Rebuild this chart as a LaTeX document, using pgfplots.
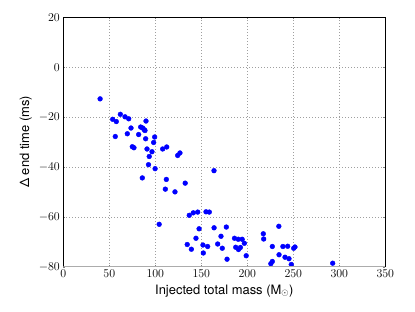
\documentclass[border=0pt]{standalone}
\usepackage{fontspec}
\setmainfont{TeX Gyre Heros}
\usepackage{pgfplots}
\pgfplotsset{compat=1.18}
\begin{document}
\begin{tikzpicture}
\path[use as bounding box] (-63.3bp,-45.3bp) rectangle (351.7bp,266.7bp);
\begin{axis}[
  at={(0,0)}, anchor=south west,
  scale only axis, width=322bp, height=249.4bp,
  xmin=0, xmax=350, ymin=-80, ymax=20,
  xtick={0,50,...,350}, ytick={-80,-60,...,20},
  tick pos=both, tick align=inside, major tick length=2bp,
  grid=major, grid style={dash pattern=on 0.9bp off 2.1bp, gray!75, line width=0.6bp},
  axis line style={line width=0.8pt},
  tick label style={font=\fontsize{12}{12}\selectfont},
  label style={font=\fontsize{13}{13}\selectfont},
  xlabel={Injected total mass (M$_\odot$)},
  ylabel={Δ end time (ms)},
  clip marker paths=true,
]
\addplot[only marks, mark=*, mark size=2.4bp, color={rgb,255:red,0;green,0;blue,255}] coordinates {
(40,-12.7) (53.7,-20.9) (57.6,-21.8) (62,-18.9) (67.1,-19.9) (71.1,-20.7)
(56.5,-27.8) (69.6,-26.7) (73.6,-24.4) (81.9,-27) (84.1,-24) (86.3,-24.4)
(88.1,-25.1) (88.8,-25.4) (89.9,-21.6) (89.5,-28.7) (75,-31.9) (76.8,-32.3)
(91,-32.8) (99.3,-28) (98.2,-30.2) (96.4,-33.9) (93.4,-35.8) (92.6,-39.1)
(99.8,-40.7) (85.9,-44.4) (108,-32.8) (112.4,-32) (124.3,-35.4) (126.8,-34.4)
(112,-45) (110.9,-48.9) (121.4,-50) (132.5,-46.5) (163.8,-41.5)
(136.9,-59.4) (141.3,-58.4) (146.1,-58.1) (155.1,-58) (158.7,-58.1)
(104.2,-63) (147.6,-64.8) (163.9,-64.4) (177.2,-64.1)
(144.2,-68.6) (171.4,-67.8) (186.1,-68.6) (190.2,-69) (194.4,-69) (196.8,-70.6)
(134.7,-71.1) (139.2,-73) (151.8,-71.3) (156.9,-71.9) (167.8,-70.9) (172.8,-72.6)
(187.4,-72.2) (192.5,-72.3) (190.4,-73.1) (152.2,-74.5) (198.8,-75.6) (178,-77)
(217.4,-66.8) (217.8,-68.9) (234.3,-63.8) (227.2,-71.9) (238.7,-71.9) (243.9,-71.8)
(234.5,-75.2) (241,-76.2) (245.3,-76.8) (250.4,-72.6) (251.8,-72.1)
(227.2,-77.9) (225.6,-78.8) (247.8,-79.1) (292.8,-78.6)
};
\draw[gray!65, line width=1.8bp] (rel axis cs:0,0) -- (rel axis cs:1,0);
\end{axis}
\end{tikzpicture}
\end{document}
